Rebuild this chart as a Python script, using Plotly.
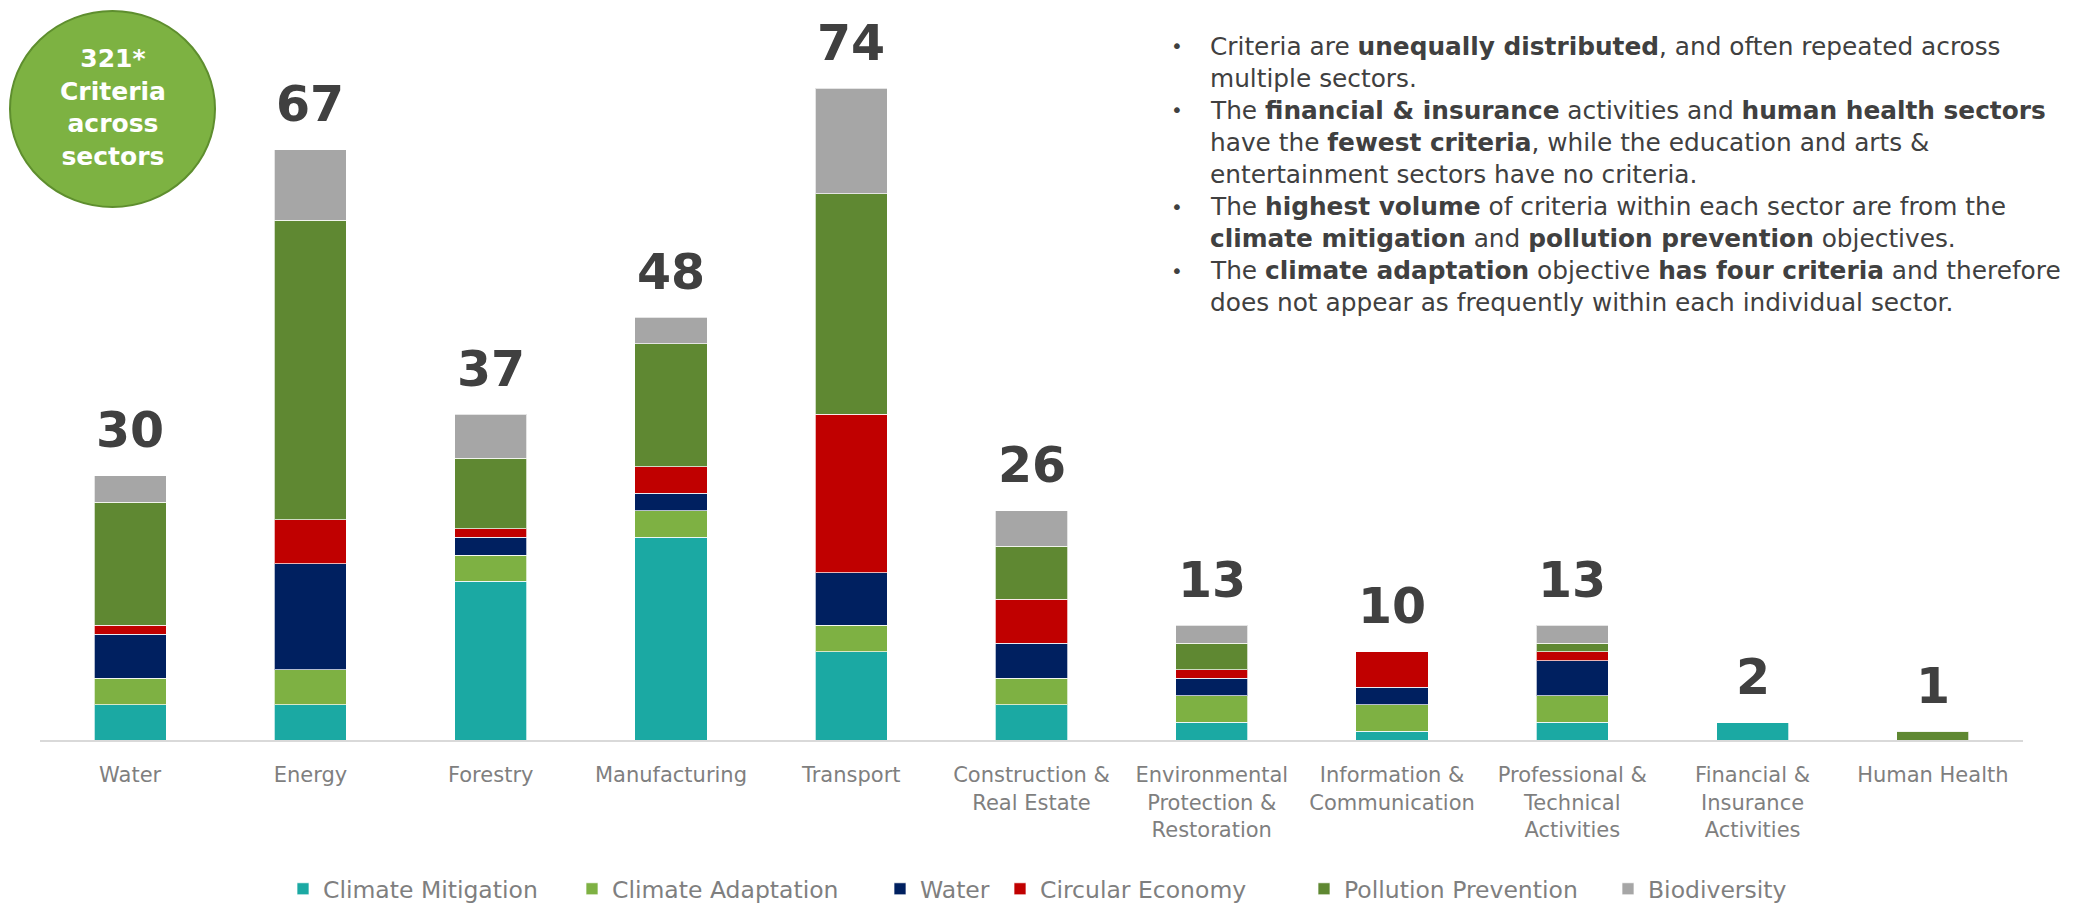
import plotly.graph_objects as go

# Sectors shown along the x axis
sectors = [
    "Water", "Energy", "Forestry", "Manufacturing", "Transport",
    "Construction &<br>Real Estate",
    "Environmental<br>Protection &<br>Restoration",
    "Information &<br>Communication",
    "Professional &<br>Technical<br>Activities",
    "Financial &<br>Insurance<br>Activities",
    "Human Health",
]

# Number of criteria per environmental objective in each sector
climate_mitigation = [4, 4, 18, 23, 10, 4, 2, 1, 2, 2, 0]
climate_adaptation = [3, 4, 3, 3, 3, 3, 3, 3, 3, 0, 0]
water = [5, 12, 2, 2, 6, 4, 2, 2, 4, 0, 0]
circular_economy = [1, 5, 1, 3, 18, 5, 1, 4, 1, 0, 0]
pollution_prevention = [14, 34, 8, 14, 25, 6, 3, 0, 1, 0, 1]
biodiversity = [3, 8, 5, 3, 12, 4, 2, 0, 2, 0, 0]

series = [
    ("Climate Mitigation", climate_mitigation, "#1BA9A3"),
    ("Climate Adaptation", climate_adaptation, "#7EB143"),
    ("Water", water, "#002060"),
    ("Circular Economy", circular_economy, "#C00000"),
    ("Pollution Prevention", pollution_prevention, "#5F8832"),
    ("Biodiversity", biodiversity, "#A6A6A6"),
]

totals = [sum(v) for v in zip(*[s[1] for s in series])]
grand_total = sum(totals)

bullet_lines = [
    ("Criteria are <b>unequally distributed</b>, and often repeated across", True),
    ("multiple sectors.", False),
    ("The <b>financial & insurance</b> activities and <b>human health sectors</b>", True),
    ("have the <b>fewest criteria</b>, while the education and arts &", False),
    ("entertainment sectors have no criteria.", False),
    ("The <b>highest volume</b> of criteria within each sector are from the", True),
    ("<b>climate mitigation</b> and <b>pollution prevention</b> objectives.", False),
    ("The <b>climate adaptation</b> objective <b>has four criteria</b> and therefore", True),
    ("does not appear as frequently within each individual sector.", False),
]

W, H = 2073, 907
ML, MR, MT, MB = 40, 50, 0, 167
PW, PH = W - ML - MR, H - MT - MB
FONT = "DejaVu Sans"

# left edge (px) of each legend swatch
legend_left_px = [297, 586, 894, 1014, 1318, 1622]


def px_x(px):
    return (px - ML) / PW


def px_y(py):
    return (H - MB - py) / PH


fig = go.Figure()
legend_layout = {}
for i, (name, vals, color) in enumerate(series):
    key = "legend" if i == 0 else f"legend{i + 1}"
    fig.add_trace(go.Bar(
        x=sectors, y=vals, name=name, legend=key, showlegend=True,
        marker=dict(color=color, line=dict(color="rgba(255,255,255,0.7)", width=1)),
    ))
    legend_layout[key] = dict(
        orientation="h", x=px_x(legend_left_px[i] - 14), xanchor="left",
        y=px_y(889), yanchor="middle", bgcolor="rgba(0,0,0,0)",
        font=dict(family=FONT, size=23.5, color="#7F7F7F"),
    )

# Totals above each stacked bar
for cat, tot in zip(sectors, totals):
    fig.add_annotation(
        x=cat, y=tot, text=f"<b>{tot}</b>", showarrow=False,
        yanchor="middle", yshift=45,
        font=dict(family=FONT, size=49, color="#404040"),
    )

# Summary badge
fig.add_shape(
    type="circle", xref="paper", yref="paper",
    x0=px_x(10), x1=px_x(215), y0=px_y(207), y1=px_y(11),
    fillcolor="#7DB242", line=dict(color="#5E8E2E", width=2), layer="above",
)
fig.add_annotation(
    xref="paper", yref="paper", x=px_x(112.5), y=px_y(108),
    text=f"<b>{grand_total}*<br>Criteria<br>across<br>sectors</b>",
    showarrow=False, xanchor="center", yanchor="middle",
    font=dict(family=FONT, size=25, color="white"),
)

# Key findings list
line_h = 32.1
for i, (line, bullet) in enumerate(bullet_lines):
    py = 46 + line_h * i
    fig.add_annotation(
        xref="paper", yref="paper", x=px_x(1208), y=px_y(py),
        text=line, showarrow=False, xanchor="left", yanchor="middle",
        font=dict(family=FONT, size=24.8, color="#404040"),
    )
    if bullet:
        fig.add_annotation(
            xref="paper", yref="paper", x=px_x(1177), y=px_y(py),
            text="•", showarrow=False, xanchor="center", yanchor="middle",
            font=dict(family=FONT, size=20, color="#404040"),
        )

fig.update_layout(
    width=W, height=H,
    barmode="stack", bargap=0.6,
    showlegend=True,
    plot_bgcolor="white", paper_bgcolor="white",
    margin=dict(l=ML, r=MR, t=MT, b=MB, autoexpand=False),
    font=dict(family=FONT, color="#7F7F7F"),
    xaxis=dict(
        type="category", showgrid=False, showline=True, linecolor="#D9D9D9",
        linewidth=2, ticks="", tickfont=dict(family=FONT, size=21, color="#7F7F7F"),
        ticklabelstandoff=15,
    ),
    yaxis=dict(range=[0, 84], visible=False, showgrid=False),
    **legend_layout,
)

fig.write_html("out.html")
